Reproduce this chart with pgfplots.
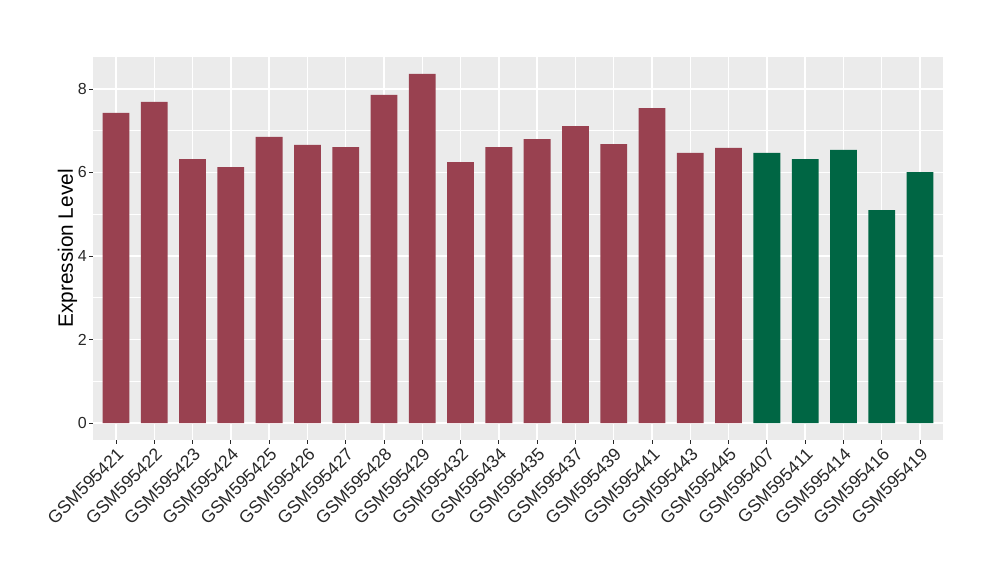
\documentclass[border=0pt]{standalone}
\usepackage{pgfplots}
\pgfplotsset{compat=1.18}
\usepackage{fontspec}
\setmainfont{Liberation Sans}
\definecolor{barred}{RGB}{153,65,80}
\definecolor{bargreen}{RGB}{0,102,68}
\definecolor{panel}{RGB}{235,235,235}
\definecolor{tickgray}{RGB}{40,40,40}
\begin{document}
\begin{tikzpicture}
\useasboundingbox (-69.75pt,-105pt) rectangle (680.25pt,330pt);
\begin{axis}[at={(0,0)}, anchor=south west, scale only axis,
  width=637.5pt, height=287.25pt,
  xmin=-0.6, xmax=21.6, ymin=-0.407, ymax=8.766,
  axis background/.style={fill=panel},
  axis line style={draw=none},
  xtick={0,...,21},
  xticklabels={GSM595421,GSM595422,GSM595423,GSM595424,GSM595425,GSM595426,GSM595427,GSM595428,GSM595429,GSM595432,GSM595434,GSM595435,GSM595437,GSM595439,GSM595441,GSM595443,GSM595445,GSM595407,GSM595411,GSM595414,GSM595416,GSM595419},
  x tick label style={rotate=45, anchor=north east, font=\fontsize{13.2}{14}\selectfont, text=tickgray, inner sep=1.2pt},
  ytick={0,2,4,6,8}, minor ytick={1,3,5,7},
  y tick label style={font=\fontsize{12}{13}\selectfont, text=tickgray, inner sep=1.5pt},
  /pgf/number format/assume math mode=true,
  grid=both,
  major grid style={white, line width=1.0pt},
  minor grid style={white, line width=0.5pt},
  tick style={tickgray, line width=0.6pt},
  tick align=outside, major tick length=3pt, minor tick length=0pt,
  xtick pos=bottom, ytick pos=left,
  ylabel={Expression Level},
  ylabel style={font=\fontsize{15.6}{16}\selectfont, at={(axis description cs:-0.0300,0.5)}, anchor=center},
  ybar, bar width=0.7, bar shift=0pt,
]
\addplot[fill=barred, draw=none] coordinates {
(0,7.43) (1,7.69) (2,6.32) (3,6.13) (4,6.85) (5,6.66) (6,6.61) (7,7.86) (8,8.36)
(9,6.25) (10,6.61) (11,6.80) (12,7.11) (13,6.68) (14,7.54) (15,6.47) (16,6.59)};
\addplot[fill=bargreen, draw=none] coordinates {
(17,6.47) (18,6.32) (19,6.54) (20,5.10) (21,6.01)};
\end{axis}
\end{tikzpicture}
\end{document}
